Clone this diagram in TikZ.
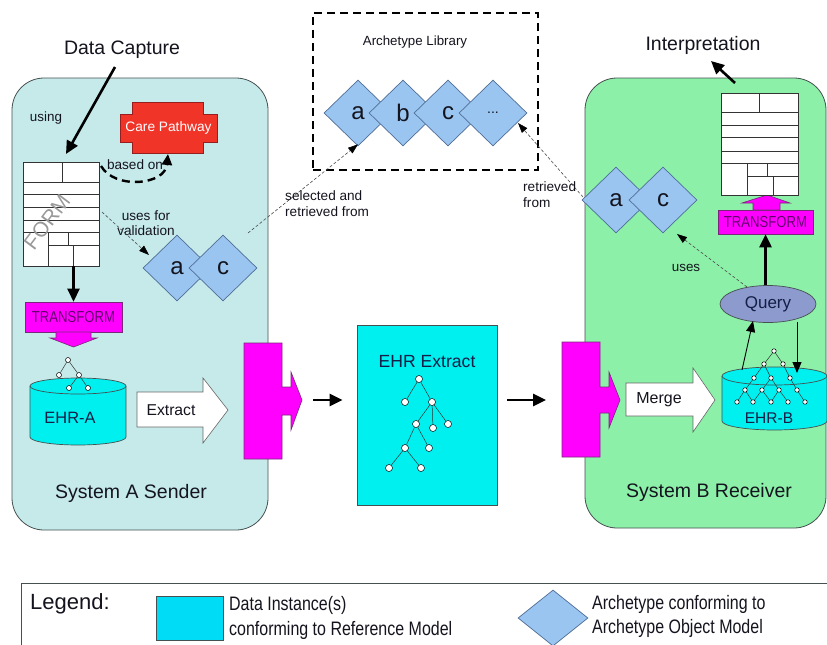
\documentclass[tikz,border=0pt]{standalone}
\usepackage{fontspec}
\setmainfont{Liberation Sans}
\newfontfamily\narrowfont[FakeStretch=0.82]{Liberation Sans}
\usetikzlibrary{shapes.geometric,arrows.meta}
\newcommand\myfs[1]{\fontsize{#1}{#1}\selectfont}
\definecolor{sysA}{RGB}{198,234,234}
\definecolor{sysB}{RGB}{140,240,168}
\definecolor{cyanD}{RGB}{0,240,240}
\definecolor{cyanL}{RGB}{0,220,245}
\definecolor{magD}{RGB}{255,0,255}
\definecolor{magE}{RGB}{120,40,120}
\definecolor{trText}{RGB}{100,0,110}
\definecolor{archF}{RGB}{153,197,240}
\definecolor{archE}{RGB}{80,110,150}
\definecolor{careF}{RGB}{240,52,40}
\definecolor{careE}{RGB}{150,30,30}
\definecolor{queryF}{RGB}{140,154,205}
\definecolor{txt}{RGB}{20,20,30}
\definecolor{navy}{RGB}{20,30,70}
\definecolor{edgeG}{RGB}{70,80,80}
\tikzset{
  sysbox/.style={draw=edgeG, line width=0.8pt, rounded corners=32pt, inner sep=0pt},
  formbox/.style={draw=black!80, fill=white, line width=0.8pt, inner sep=0pt},
  formline/.style={draw=black!80, line width=0.8pt},
  trbox/.style={draw=magE, fill=magD, line width=0.6pt, inner sep=0pt, text=trText, font=\narrowfont\myfs{16}},
  magshape/.style={draw=magE, fill=magD, line width=0.6pt},
  whitearrow/.style={draw=black!60, fill=white, line width=0.6pt},
  arch/.style={diamond, aspect=1, inner sep=0pt, minimum width=68pt, minimum height=66pt, fill=archF, draw=archE, line width=0.7pt, font=\myfs{24}, text=txt},
  lbl/.style={inner sep=0pt, text=txt},
  tnode/.style={circle, draw=black, fill=white, line width=0.5pt, inner sep=0pt, minimum size=#1},
  tnode/.default=5pt,
  tedge/.style={draw=black!80, line width=0.5pt},
  thickarrow/.style={draw=black, line width=2.6pt, -{Triangle[length=13pt,width=12pt]}},
  thinarrow/.style={draw=black, line width=0.9pt, -{Triangle[length=11pt,width=9pt]}},
  dasharrow/.style={draw=black!70, line width=0.6pt, dash pattern=on 3pt off 2pt, -{Triangle[length=10pt,width=7pt,black]}},
}
\begin{document}
\begin{tikzpicture}[x=1pt,y=-1pt]
\useasboundingbox (0,0) rectangle (827,645);
\fill[white] (0,0) rectangle (827,645);

% ---------- system boxes
\node[sysbox, fill=sysA, minimum width=256pt, minimum height=452pt] (sysA) at (140,304) {};
\node[sysbox, fill=sysB, minimum width=241pt, minimum height=450pt] (sysB) at (705.5,303) {};
\node[lbl, font=\myfs{19.5}] (sysAlbl) at (131,493) {System A Sender};
\node[lbl, font=\myfs{19.5}] (sysBlbl) at (709,492) {System B Receiver};
\node[lbl, font=\myfs{19.5}] (dclbl) at (122,50) {Data Capture};
\node[lbl, font=\myfs{19.5}] (interp) at (703,45) {Interpretation};

% ---------- archetype library
\node[draw=black, line width=2pt, dash pattern=on 8pt off 5pt, minimum width=225pt, minimum height=157pt, inner sep=0pt] (lib) at (425.5,91.5) {};
\node[lbl, font=\myfs{13.3}] (liblbl) at (415,42) {Archetype Library};
\node[arch] (libA) at (358,113) {a};
\node[arch] (libB) at (403,113) {b};
\node[arch] (libC) at (448,113) {c};
\node[arch, font=\myfs{14}] (libD) at (493,113) {...};

% ---------- care pathway
\path[fill=careF, draw=careE, line width=0.6pt] (132,102)--(203,102)--(203,114)--(217,114)--(217,142)--(203,142)--(203,153)--(132,153)--(132,142)--(120,142)--(120,114)--(132,114)--cycle;
\node[lbl, text=white, font=\myfs{13.7}] (care) at (168.5,128) {Care Pathway};
\coordinate (careB) at (168,154);
\node[lbl, font=\myfs{13.4}] (using) at (46,118) {using};
\node[lbl, font=\myfs{13.6}] (basedon) at (135,165) {based on};

% ---------- form A
\node[formbox, minimum width=76pt, minimum height=104pt] (formA) at (61,214) {};
\draw[formline] (23,182)--(99,182) (23,194)--(99,194) (23,207)--(99,207) (23,220)--(99,220) (23,232)--(99,232) (48,245)--(99,245)
  (62,162)--(62,182) (48,232)--(48,266) (68,232)--(68,245) (73,245)--(73,266);
\node[lbl, text=black!40, font=\myfs{21}, rotate=53] (formlbl) at (47,222) {FORM};

\coordinate (dcS) at (115,67);
\coordinate (dcE) at (66,154);
\draw[thickarrow] (dcS) -- (dcE);
\coordinate (bS) at (101,166);
\draw[draw=black, line width=2.4pt, dash pattern=on 8pt off 5pt, -{Triangle[length=11pt,width=10pt]}] (bS) .. controls (115,190) and (165,185) .. (careB);

% ---------- validation diamonds (A)
\node[arch] (aL) at (177,268) {a};
\node[arch] (cL) at (223,268) {c};
\node[lbl, font=\myfs{13.6}, align=center] (usesfor) at (146,223) {uses for\\[2pt]validation};
\coordinate (vS) at (102,212);
\coordinate (vE) at (149,255);
\draw[dasharrow] (vS) -- (vE);

% ---------- transform A
\node[trbox, minimum width=97pt, minimum height=30pt] (trA) at (73.5,317) {TRANSFORM};
\path[magshape] (56,332)--(91,332)--(91,338)--(97,338)--(73.5,347)--(50,338)--(56,338)--cycle;
\draw[thickarrow] (formA.south -| trA.north) -- (trA.north);

% ---------- EHR-A cylinder
\path[fill=cyanD, draw=edgeG, line width=0.7pt] (30,386) -- (30,437) arc[start angle=180, end angle=0, x radius=48, y radius=8] -- (126,386);
\path[fill=cyanD, draw=edgeG, line width=0.7pt] (78,386) ellipse [x radius=48, y radius=8];
\node[lbl, text=navy, font=\myfs{16.4}] (ehrA) at (70,418) {EHR-A};
\node[tnode] (ta1) at (68,360) {};
\node[tnode] (ta2) at (59,375) {};
\node[tnode] (ta3) at (79,375) {};
\node[tnode] (ta4) at (69,388) {};
\node[tnode] (ta5) at (88,388) {};
\foreach \a/\b in {ta1/ta2,ta1/ta3,ta3/ta4,ta3/ta5} \draw[tedge] (\a) -- (\b);

% ---------- extract arrow
\path[whitearrow] (137,392)--(203,392)--(203,378)--(228,410)--(203,443)--(203,427)--(137,427)--cycle;
\node[lbl, font=\myfs{15.7}] (extract) at (171,410) {Extract};

% ---------- connector A
\path[magshape] (244,343)--(282,343)--(282,387)--(291,387)--(291,372)--(302,400)--(291,430)--(291,415)--(282,415)--(282,459)--(244,459)--cycle;
\coordinate (cAtip) at (302,400);

% ---------- EHR extract
\node[fill=cyanD, draw=edgeG, line width=0.7pt, minimum width=140pt, minimum height=180pt, inner sep=0pt] (ehrX) at (427,415) {};
\node[lbl, text=navy, font=\myfs{17.6}] (ehrXlbl) at (427,362) {EHR Extract};
\draw[thickarrow] ([xshift=11pt]cAtip) -- ([xshift=-14pt]ehrX.west |- cAtip);
\foreach \n/\x/\y in {x1/419/379,x2/405/402,x3/432/402,x4/416/424,x5/433/428,x6/448/424,x7/405/448,x8/429/448,x9/389/468,x10/421/468}
  \node[tnode=7pt] (\n) at (\x,\y) {};
\foreach \a/\b in {x1/x2,x1/x3,x3/x4,x3/x5,x3/x6,x4/x7,x4/x8,x7/x9,x7/x10} \draw[tedge] (\a) -- (\b);

% ---------- connector B
\path[magshape] (562,342)--(600,342)--(600,387)--(609,387)--(609,372)--(620,400)--(609,428)--(609,413)--(600,413)--(600,457)--(562,457)--cycle;
\coordinate (cBin) at (562,400);
\draw[thickarrow] ([xshift=10pt]ehrX.east |- cBin) -- ([xshift=-16pt]cBin);

% ---------- merge arrow
\path[whitearrow] (626,383)--(693,383)--(693,368)--(715,400)--(693,432)--(693,416)--(626,416)--cycle;
\node[lbl, font=\myfs{16}] (merge) at (659,400) {Merge};

% ---------- EHR-B cylinder
\path[fill=cyanD, draw=edgeG, line width=0.7pt] (722,376) -- (722,421) arc[start angle=180, end angle=0, x radius=52.5, y radius=9] -- (827,376);
\path[fill=cyanD, draw=edgeG, line width=0.7pt] (774.5,376) ellipse [x radius=52.5, y radius=9];
\node[lbl, text=navy, font=\myfs{15.5}] (ehrB) at (769,418) {EHR-B};
\foreach \n/\x/\y in {bR/774/351,bA/764/364,bB/783/364,bC/754/378,bD/771/378,bE/790/378,bF/745/390,bG/762/390,bH/779/390,bI/797/390,bJ/737/402,bK/753/402,bL/771/402,bM/788/402,bN/805/402}
  \node[tnode=4.5pt] (\n) at (\x,\y) {};
\foreach \a/\b in {bR/bA,bR/bB,bA/bC,bA/bD,bB/bE,bC/bF,bD/bG,bD/bH,bE/bI,bF/bJ,bF/bK,bG/bK,bG/bL,bH/bL,bH/bM,bI/bN} \draw[tedge] (\a) -- (\b);

% ---------- query
\node[ellipse, fill=queryF, draw=edgeG, line width=0.7pt, minimum width=96pt, minimum height=37pt, inner sep=0pt, text=navy, font=\myfs{17}] (query) at (768,304) {Query};
\coordinate (qS) at (742,370);
\coordinate (qE) at (753,321);
\draw[thinarrow] (qS) -- (qE);
\coordinate (dS) at (797,322);
\coordinate (dE) at (797,373);
\draw[thinarrow] (dS) -- (dE);

% ---------- transform B and form B
\node[trbox, minimum width=95pt, minimum height=24pt] (trB) at (765.5,222) {TRANSFORM};
\path[magshape] (753,210)--(753,203)--(742,203)--(767,195)--(790,203)--(780,203)--(780,210)--cycle;
\draw[thickarrow] (query.north -| trB.south) -- (trB.south);
\node[formbox, minimum width=77pt, minimum height=102pt] (formB) at (759.5,144) {};
\draw[formline] (721,112)--(798,112) (721,125)--(798,125) (721,137)--(798,137) (721,151)--(798,151) (721,163)--(798,163) (747,176)--(798,176)
  (759,93)--(759,112) (747,163)--(747,195) (767,163)--(767,176) (773,176)--(773,195);
\coordinate (iS) at (735,83);
\coordinate (iE) at (711,61);
\draw[thickarrow] (iS) -- (iE);

% ---------- diamonds (B)
\node[arch] (aR) at (616,200) {a};
\node[arch] (cR) at (663,200) {c};
\node[lbl, font=\myfs{13.4}] (uses) at (686,268) {uses};
\coordinate (uS) at (747,287);
\coordinate (uE) at (677,234);
\draw[dasharrow] (uS) -- (uE);

% ---------- library links
\coordinate (sS) at (248,233);
\draw[dasharrow] (sS) -- ([yshift=2pt]libA.south);
\node[lbl, font=\myfs{13.6}, anchor=west] (sel1) at (285,196) {selected and};
\node[lbl, font=\myfs{13.6}, anchor=west] (sel2) at (285,212) {retrieved from};
\coordinate (rS) at (583,197);
\coordinate (rE) at (518,123);
\draw[dasharrow] (rS) -- (rE);
\node[lbl, font=\myfs{13.6}, anchor=west] (ret1) at (523,187) {retrieved};
\node[lbl, font=\myfs{13.6}, anchor=west] (ret2) at (523,203) {from};

% ---------- legend
\draw[edgeG, line width=0.8pt] (835,583) -- (21,583) -- (21,660);
\node[lbl, font=\myfs{22}, anchor=west] (leg) at (30,604) {Legend:};
\node[fill=cyanL, draw=edgeG, line width=0.6pt, minimum width=67pt, minimum height=44pt, inner sep=0pt] (legsq) at (189.5,618) {};
\node[lbl, anchor=west, font=\narrowfont\myfs{19.5}] (legt1) at (229,605) {Data Instance(s)};
\node[lbl, anchor=west, font=\narrowfont\myfs{19.5}] (legt2) at (229,630) {conforming to Reference Model};
\node[arch, minimum width=70pt, minimum height=56pt] (legd) at (553,618) {};
\node[lbl, anchor=west, font=\narrowfont\myfs{19.5}] (legt3) at (592,604) {Archetype conforming to};
\node[lbl, anchor=west, font=\narrowfont\myfs{19.5}] (legt4) at (592,628) {Archetype Object Model};
\end{tikzpicture}
\end{document}
